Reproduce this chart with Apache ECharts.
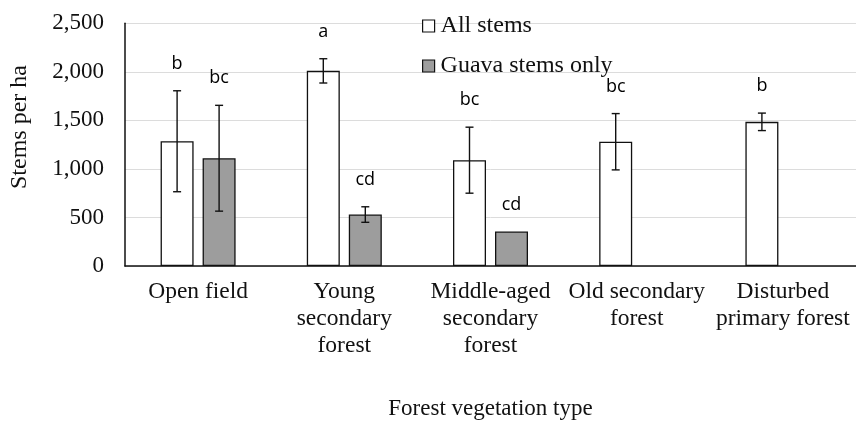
<!DOCTYPE html>
<html>
<head>
<meta charset="utf-8">
<script src="https://cdn.jsdelivr.net/npm/echarts@6/dist/echarts.min.js"></script>
<style>html,body{margin:0;padding:0;background:#fff;}#chart{width:856px;height:425px;}</style>
</head>
<body>
<div id="chart"></div>
<script>
const categories = ['Open field', 'Young\nsecondary\nforest', 'Middle-aged\nsecondary\nforest', 'Old secondary\nforest', 'Disturbed\nprimary forest'];
const allStems = [1285, 2010, 1090, 1280, 1485];
const allErr = [520, 125, 340, 290, 90];
const guavaStems = [1110, 530, 355, null, null];
const guavaErr = [545, 80, 0, 0, 0];
const allLetters = ['b', 'a', 'bc', 'bc', 'b'];
const guavaLetters = ['bc', 'cd', 'cd', '', ''];
const yTicks = [0, 500, 1000, 1500, 2000, 2500];

const serif = '"Liberation Serif", "Times New Roman", serif';
const BAR_W = 33, BAR_GAP = 9;
const half = (BAR_W + BAR_GAP) / 2;

const errData = [];
const errLetters = [];
categories.forEach((c, i) => {
  errData.push([i, allStems[i], allErr[i], 0]); errLetters.push(allLetters[i]);
  if (guavaStems[i] != null) { errData.push([i, guavaStems[i], guavaErr[i], 1]); errLetters.push(guavaLetters[i]); }
});

const chart = echarts.init(document.getElementById('chart'));
chart.setOption({
  animation: false,
  backgroundColor: '#fff',
  grid: { left: 125, right: 0, top: 23.3, bottom: 158.3 },
  legend: {
    orient: 'vertical', left: 417, top: 9, itemGap: 16,
    itemWidth: 12, itemHeight: 12, icon: 'rect',
    textStyle: { fontFamily: serif, fontSize: 24, color: '#111', padding: [0, 0, 0, 1] },
    data: [
      { name: 'All stems', itemStyle: { color: '#fff', borderColor: '#111', borderWidth: 1.2 } },
      { name: 'Guava stems only', itemStyle: { color: '#9d9d9d', borderColor: '#111', borderWidth: 1.2 } }
    ]
  },
  xAxis: {
    type: 'category', data: categories,
    axisLine: { lineStyle: { color: '#111', width: 1.5 } },
    axisTick: { show: false },
    axisLabel: { interval: 0, fontFamily: serif, fontSize: 23.5, color: '#111', lineHeight: 27, margin: 12 },
    name: 'Forest vegetation type', nameLocation: 'middle', nameGap: 131,
    nameTextStyle: { fontFamily: serif, fontSize: 23, color: '#111' }
  },
  yAxis: {
    type: 'value', min: yTicks[0], max: yTicks[yTicks.length - 1], interval: 500,
    axisLine: { show: true, lineStyle: { color: '#111', width: 1.5 } },
    axisTick: { show: false },
    splitLine: { lineStyle: { color: '#dcdcdc', width: 1 } },
    axisLabel: { fontFamily: serif, fontSize: 23, color: '#111', margin: 21,
      formatter: v => v.toLocaleString('en-US') }
  },
  graphic: [{
    type: 'text', x: 20, y: 127, rotation: Math.PI / 2,
    style: { text: 'Stems per ha', fontFamily: serif, fontSize: 24, fill: '#111', align: 'center', verticalAlign: 'middle' }
  }],
  series: [
    { name: 'All stems', type: 'bar', data: allStems, barWidth: BAR_W, barGap: (BAR_GAP / BAR_W * 100) + '%',
      itemStyle: { color: '#fff', borderColor: '#111', borderWidth: 1.3 } },
    { name: 'Guava stems only', type: 'bar', data: guavaStems, barWidth: BAR_W,
      itemStyle: { color: '#9d9d9d', borderColor: '#111', borderWidth: 1.3 } },
    { type: 'custom', z: 10, silent: true, data: errData,
      renderItem: function (params, api) {
        const cat = api.value(0), val = api.value(1), err = api.value(2), slot = api.value(3);
        const base = api.coord([cat, val]);
        const x = base[0] + (slot === 0 ? -half : half);
        const children = [];
        let topY = base[1];
        if (err > 0) {
          const t = api.coord([cat, val + err])[1];
          const b = api.coord([cat, val - err])[1];
          topY = t;
          const ls = { stroke: '#111', lineWidth: 1.4 };
          children.push({ type: 'line', shape: { x1: x, y1: t, x2: x, y2: b }, style: ls });
          children.push({ type: 'line', shape: { x1: x - 4, y1: t, x2: x + 4, y2: t }, style: ls });
          children.push({ type: 'line', shape: { x1: x - 4, y1: b, x2: x + 4, y2: b }, style: ls });
        }
        const letter = errLetters[params.dataIndex];
        if (letter) {
          children.push({ type: 'text', x: x, y: topY - 27,
            style: { text: letter, fontFamily: '"Open Sans", sans-serif', fontSize: 18, fill: '#000', align: 'center', verticalAlign: 'middle' } });
        }
        return { type: 'group', children: children };
      }
    }
  ]
});
</script>
</body>
</html>
